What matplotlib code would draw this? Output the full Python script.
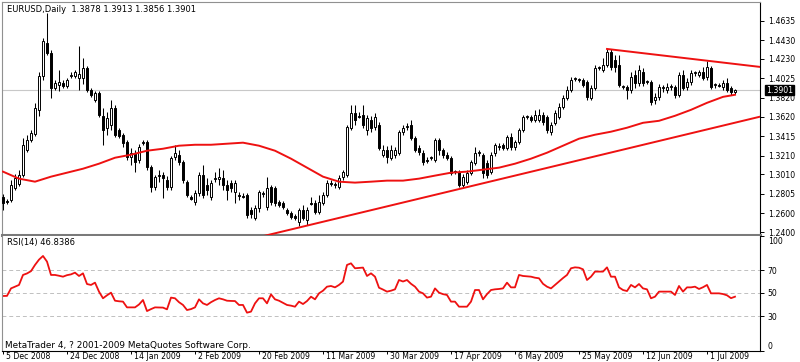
import matplotlib
matplotlib.use("Agg")
import matplotlib.pyplot as plt
import matplotlib.transforms as mtransforms

# EURUSD daily bars, 5 Dec 2008 .. early Jul 2009 (MT4 style incl. sunday bars)
opens = [
    1.2776, 1.2734, 1.2745, 1.2871, 1.2913, 1.3008, 1.3272, 1.3377, 1.3441, 1.3693,
    1.4052, 1.4399, 1.4294, 1.3926, 1.3957, 1.3978, 1.3947, 1.4052, 1.4052, 1.4031,
    1.4031, 1.4136, 1.3904, 1.3799, 1.3873, 1.3630, 1.3504, 1.3535, 1.3715, 1.3483,
    1.3430, 1.3356, 1.3198, 1.3240, 1.3166, 1.3346, 1.3356, 1.3093, 1.2881, 1.2998,
    1.3008, 1.2955, 1.2881, 1.3198, 1.3219, 1.3145, 1.2934, 1.2776, 1.2724, 1.2818,
    1.3008, 1.2902, 1.2776, 1.2966, 1.2966, 1.2977, 1.2902, 1.2924, 1.2829, 1.2797,
    1.2787, 1.2797, 1.2639, 1.2555, 1.2660, 1.2808, 1.2671, 1.2881, 1.2871, 1.2724,
    1.2713, 1.2639, 1.2608, 1.2576, 1.2513, 1.2639, 1.2534, 1.2713, 1.2713, 1.2618,
    1.2713, 1.2797, 1.2924, 1.2902, 1.2881, 1.2987, 1.3008, 1.3504, 1.3662, 1.3630,
    1.3640, 1.3483, 1.3588, 1.3514, 1.3535, 1.3219, 1.3272, 1.3187, 1.3219, 1.3240,
    1.3462, 1.3514, 1.3535, 1.3399, 1.3293, 1.3240, 1.3166, 1.3187, 1.3166, 1.3377,
    1.3272, 1.3219, 1.3187, 1.3040, 1.3040, 1.2902, 1.2934, 1.3029, 1.3135, 1.3240,
    1.3219, 1.3135, 1.3040, 1.3240, 1.3304, 1.3324, 1.3293, 1.3409, 1.3304, 1.3356,
    1.3483, 1.3619, 1.3619, 1.3588, 1.3588, 1.3640, 1.3619, 1.3462, 1.3556, 1.3619,
    1.3725, 1.3820, 1.3904, 1.4020, 1.4010, 1.4010, 1.3989, 1.3820, 1.3926, 1.4136,
    1.4115, 1.4168, 1.4305, 1.4220, 1.4168, 1.3936, 1.3936, 1.3904, 1.4062, 1.3978,
    1.4094, 1.3989, 1.3989, 1.3799, 1.3830, 1.3926, 1.3904, 1.3936, 1.3936, 1.3852,
    1.4062, 1.3936, 1.3989, 1.4083, 1.4062, 1.4094, 1.4041, 1.4136, 1.3957, 1.3957,
    1.3936, 1.3978, 1.3926, 1.3878,
]
highs = [
    1.2808, 1.2755, 1.2955, 1.3019, 1.3061, 1.3399, 1.3430, 1.3483, 1.3767, 1.4094,
    1.4453, 1.4716, 1.4326, 1.4010, 1.4115, 1.4010, 1.4031, 1.4094, 1.4115, 1.4368,
    1.4241, 1.4157, 1.3926, 1.3894, 1.3894, 1.3715, 1.3672, 1.3799, 1.3746, 1.3504,
    1.3451, 1.3377, 1.3293, 1.3272, 1.3335, 1.3377, 1.3377, 1.3113, 1.3008, 1.3061,
    1.3040, 1.2998, 1.3208, 1.3324, 1.3272, 1.3166, 1.2955, 1.2797, 1.2850, 1.3040,
    1.3113, 1.2977, 1.2955, 1.3040, 1.3082, 1.3061, 1.2955, 1.2955, 1.2955, 1.2829,
    1.2818, 1.2818, 1.2671, 1.2692, 1.2850, 1.2839, 1.2987, 1.2902, 1.2892, 1.2745,
    1.2734, 1.2660, 1.2629, 1.2597, 1.2660, 1.2692, 1.2671, 1.2776, 1.2745, 1.2797,
    1.2829, 1.2955, 1.2955, 1.2934, 1.3008, 1.3061, 1.3535, 1.3746, 1.3746, 1.3672,
    1.3746, 1.3640, 1.3630, 1.3662, 1.3567, 1.3324, 1.3314, 1.3324, 1.3304, 1.3483,
    1.3535, 1.3556, 1.3588, 1.3420, 1.3324, 1.3272, 1.3198, 1.3208, 1.3399, 1.3399,
    1.3293, 1.3251, 1.3208, 1.3061, 1.3061, 1.3019, 1.3061, 1.3166, 1.3304, 1.3272,
    1.3240, 1.3166, 1.3251, 1.3346, 1.3346, 1.3346, 1.3430, 1.3451, 1.3377, 1.3504,
    1.3640, 1.3640, 1.3640, 1.3693, 1.3704, 1.3672, 1.3640, 1.3567, 1.3693, 1.3767,
    1.3852, 1.3947, 1.4041, 1.4041, 1.4031, 1.4031, 1.4010, 1.3957, 1.4168, 1.4157,
    1.4241, 1.4336, 1.4336, 1.4273, 1.4273, 1.3957, 1.3957, 1.4094, 1.4115, 1.4168,
    1.4136, 1.4010, 1.4010, 1.3873, 1.3968, 1.3957, 1.3978, 1.3968, 1.3957, 1.4094,
    1.4115, 1.4031, 1.4115, 1.4104, 1.4115, 1.4147, 1.4210, 1.4157, 1.3978, 1.3978,
    1.4010, 1.4031, 1.3947, 1.3913,
]
lows = [
    1.2639, 1.2703, 1.2724, 1.2850, 1.2892, 1.2987, 1.3251, 1.3356, 1.3420, 1.3630,
    1.4010, 1.4273, 1.3820, 1.3904, 1.3894, 1.3926, 1.3926, 1.4031, 1.4031, 1.3904,
    1.3968, 1.3883, 1.3830, 1.3778, 1.3619, 1.3324, 1.3430, 1.3483, 1.3409, 1.3399,
    1.3304, 1.3166, 1.3113, 1.3040, 1.3135, 1.3324, 1.3061, 1.2829, 1.2850, 1.2934,
    1.2766, 1.2850, 1.2850, 1.3166, 1.3113, 1.2924, 1.2776, 1.2745, 1.2692, 1.2787,
    1.2766, 1.2797, 1.2745, 1.2934, 1.2902, 1.2850, 1.2745, 1.2829, 1.2713, 1.2745,
    1.2766, 1.2555, 1.2555, 1.2534, 1.2618, 1.2776, 1.2639, 1.2692, 1.2681, 1.2671,
    1.2650, 1.2587, 1.2545, 1.2534, 1.2471, 1.2534, 1.2481, 1.2692, 1.2597, 1.2597,
    1.2692, 1.2776, 1.2892, 1.2871, 1.2860, 1.2955, 1.2987, 1.3483, 1.3535, 1.3609,
    1.3504, 1.3430, 1.3462, 1.3483, 1.3272, 1.3198, 1.3135, 1.3166, 1.3187, 1.3219,
    1.3430, 1.3483, 1.3377, 1.3251, 1.3219, 1.3113, 1.3135, 1.3166, 1.3145, 1.3219,
    1.3187, 1.3166, 1.3008, 1.3019, 1.2881, 1.2871, 1.2913, 1.3008, 1.3113, 1.3208,
    1.2977, 1.2977, 1.3019, 1.3208, 1.3272, 1.3272, 1.3272, 1.3272, 1.3272, 1.3335,
    1.3462, 1.3598, 1.3567, 1.3567, 1.3567, 1.3535, 1.3451, 1.3430, 1.3535, 1.3598,
    1.3704, 1.3799, 1.3883, 1.3999, 1.3989, 1.3936, 1.3799, 1.3799, 1.3904, 1.4115,
    1.4094, 1.4147, 1.4115, 1.4094, 1.3936, 1.3915, 1.3809, 1.3873, 1.3926, 1.3947,
    1.3947, 1.3968, 1.3746, 1.3757, 1.3799, 1.3883, 1.3873, 1.3904, 1.3820, 1.3830,
    1.3904, 1.3904, 1.3957, 1.4052, 1.4041, 1.4010, 1.4010, 1.3915, 1.3926, 1.3936,
    1.3904, 1.3883, 1.3852, 1.3856,
]
closes = [
    1.2713, 1.2724, 1.2902, 1.2977, 1.3008, 1.3324, 1.3377, 1.3451, 1.3715, 1.4052,
    1.4420, 1.4294, 1.3926, 1.3978, 1.3989, 1.3947, 1.4010, 1.4062, 1.4094, 1.4073,
    1.4136, 1.3904, 1.3852, 1.3873, 1.3640, 1.3483, 1.3609, 1.3715, 1.3430, 1.3420,
    1.3346, 1.3198, 1.3240, 1.3145, 1.3304, 1.3356, 1.3093, 1.2881, 1.2987, 1.3008,
    1.2977, 1.2881, 1.3187, 1.3240, 1.3145, 1.2955, 1.2797, 1.2755, 1.2818, 1.3008,
    1.2797, 1.2850, 1.2924, 1.2977, 1.2987, 1.2902, 1.2850, 1.2871, 1.2924, 1.2787,
    1.2776, 1.2587, 1.2597, 1.2660, 1.2829, 1.2818, 1.2871, 1.2724, 1.2713, 1.2692,
    1.2671, 1.2608, 1.2566, 1.2555, 1.2639, 1.2555, 1.2639, 1.2703, 1.2618, 1.2724,
    1.2797, 1.2924, 1.2913, 1.2913, 1.2977, 1.3040, 1.3514, 1.3662, 1.3588, 1.3619,
    1.3535, 1.3609, 1.3504, 1.3619, 1.3293, 1.3272, 1.3198, 1.3272, 1.3272, 1.3462,
    1.3504, 1.3525, 1.3399, 1.3272, 1.3251, 1.3145, 1.3156, 1.3198, 1.3377, 1.3272,
    1.3219, 1.3187, 1.3029, 1.3050, 1.2902, 1.2987, 1.3029, 1.3145, 1.3240, 1.3251,
    1.3029, 1.3008, 1.3219, 1.3324, 1.3314, 1.3293, 1.3409, 1.3304, 1.3356, 1.3483,
    1.3619, 1.3630, 1.3588, 1.3640, 1.3640, 1.3567, 1.3483, 1.3535, 1.3662, 1.3725,
    1.3820, 1.3904, 1.4010, 1.4031, 1.4020, 1.3957, 1.3830, 1.3926, 1.4136, 1.4147,
    1.4168, 1.4305, 1.4147, 1.4147, 1.3957, 1.3947, 1.3904, 1.4041, 1.3978, 1.4115,
    1.3978, 1.3999, 1.3778, 1.3830, 1.3936, 1.3936, 1.3936, 1.3947, 1.3852, 1.4062,
    1.3926, 1.3989, 1.4083, 1.4094, 1.4094, 1.4031, 1.4147, 1.3936, 1.3968, 1.3947,
    1.3978, 1.3904, 1.3883, 1.3901,
]

# moving average, read every 4th bar (last point = last bar)
ma_bars = list(range(0, 184, 4)) + [183]
ma_vals = [
    1.3040, 1.2966, 1.2934, 1.2987, 1.3029, 1.3071, 1.3124, 1.3187, 1.3219, 1.3261,
    1.3282, 1.3314, 1.3324, 1.3324, 1.3335, 1.3346, 1.3314, 1.3261, 1.3177, 1.3082,
    1.2987, 1.2934, 1.2924, 1.2934, 1.2945, 1.2945, 1.2966, 1.2998, 1.3029, 1.3040,
    1.3061, 1.3082, 1.3124, 1.3177, 1.3240, 1.3314, 1.3388, 1.3430, 1.3462, 1.3504,
    1.3556, 1.3577, 1.3630, 1.3693, 1.3767, 1.3830, 1.3852,
]

# RSI(14), one value per bar
rsi_vals = [
    47.4, 47.5, 54.0, 55.5, 57.0, 65.7, 67.0, 69.0, 74.4, 79.0,
    82.2, 77.3, 65.7, 65.7, 65.0, 64.2, 65.5, 66.2, 67.7, 64.8,
    67.1, 57.8, 57.0, 59.0, 51.2, 45.4, 48.0, 50.3, 43.3, 42.8,
    42.5, 37.5, 37.5, 37.5, 40.0, 43.9, 34.3, 36.0, 37.5, 37.4,
    37.3, 35.8, 46.0, 45.4, 42.0, 39.6, 35.2, 36.0, 37.5, 44.5,
    41.0, 39.6, 42.0, 43.9, 45.4, 44.5, 43.3, 43.1, 43.0, 39.6,
    39.6, 32.9, 33.8, 41.0, 45.4, 45.4, 41.0, 48.8, 44.5, 43.3,
    41.5, 39.6, 39.0, 38.1, 42.5, 40.4, 43.0, 46.8, 44.5, 49.7,
    52.0, 55.5, 56.1, 54.9, 57.0, 59.9, 74.4, 75.8, 71.5, 71.8,
    72.1, 64.8, 67.1, 64.2, 54.6, 53.0, 51.2, 52.0, 53.2, 61.3,
    60.0, 61.3, 58.0, 55.5, 51.2, 49.7, 46.0, 46.8, 54.0, 50.3,
    49.0, 48.3, 42.5, 42.5, 38.1, 38.1, 38.1, 42.5, 52.6, 52.6,
    44.5, 49.0, 52.6, 53.2, 53.5, 54.0, 59.0, 54.9, 54.9, 65.7,
    64.8, 64.5, 64.2, 63.3, 62.8, 58.0, 55.5, 54.0, 57.0, 59.9,
    63.0, 65.7, 71.5, 72.3, 72.0, 70.6, 61.3, 64.2, 68.6, 68.6,
    68.6, 72.3, 64.2, 64.2, 54.9, 52.6, 51.7, 57.0, 54.9, 57.8,
    54.0, 53.2, 45.4, 46.8, 51.2, 51.2, 51.2, 51.2, 48.3, 56.1,
    51.2, 54.9, 54.9, 55.5, 53.5, 55.0, 57.0, 49.7, 49.7, 49.7,
    49.1, 48.0, 45.5, 46.8,
]

# hand drawn trend lines (two anchors each, bar index / price)
support_x = [70, 183]
support_y = [1.2409, 1.3557]
resist_x = [151, 176]
resist_y = [1.4336, 1.4212]

price_ticks = [1.4635, 1.4430, 1.4230, 1.4025, 1.3820, 1.3620,
               1.3415, 1.3210, 1.3010, 1.2805, 1.2600, 1.2400]
rsi_ticks = [0, 30, 50, 70, 100]
date_bars = [0, 16, 32, 48, 64, 80, 96, 112, 128, 144, 160, 176]
date_labels = ["5 Dec 2008", "24 Dec 2008", "14 Jan 2009", "2 Feb 2009",
               "20 Feb 2009", "11 Mar 2009", "30 Mar 2009", "17 Apr 2009",
               "6 May 2009", "25 May 2009", "12 Jun 2009", "1 Jul 2009"]

W, H = 800, 362
FS = 5.6
RED = "#ee1111"

fig = plt.figure(figsize=(8, 3.62), dpi=100)
fig.patch.set_facecolor("white")

def box(x0, y0, x1, y1):
    # pixel box -> figure fraction rect
    return [x0 / W, 1 - y1 / H, (x1 - x0) / W, (y1 - y0) / H]

ax = fig.add_axes(box(2, 2, 760, 234.5))
ax2 = fig.add_axes(box(2, 235.5, 760, 350.5))

n = len(closes)
xs = list(range(n))
xlim = (-0.25, 189.25)

# --- price panel
ax.vlines(xs, lows, highs, color="black", lw=0.75, zorder=2)
bottoms = [min(o, c) for o, c in zip(opens, closes)]
heights = [abs(c - o) for o, c in zip(opens, closes)]
fills = ["white" if c >= o else "black" for o, c in zip(opens, closes)]
ax.bar(xs, heights, bottom=bottoms, width=0.62, color=fills,
       edgecolor="black", linewidth=0.7, zorder=3)

ax.plot(ma_bars, ma_vals, color=RED, lw=1.4, zorder=4)

s = (support_y[1] - support_y[0]) / (support_x[1] - support_x[0])
ax.plot([60, xlim[1]], [support_y[0] + s * (60 - support_x[0]),
                        support_y[0] + s * (xlim[1] - support_x[0])],
        color=RED, lw=1.4, zorder=4)
r = (resist_y[1] - resist_y[0]) / (resist_x[1] - resist_x[0])
ax.plot([resist_x[0], xlim[1]], [resist_y[0],
                                 resist_y[0] + r * (xlim[1] - resist_x[0])],
        color=RED, lw=1.4, zorder=4)

ax.axhline(closes[-1], color="#c8c8c8", lw=0.8, zorder=1)

ax.set_xlim(*xlim)
ax.set_ylim(1.2376, 1.4832)
ax.set_xticks([])
ax.yaxis.tick_right()
ax.set_yticks(price_ticks)
ax.set_yticklabels([f"{p:.4f}" for p in price_ticks])
ax.tick_params(axis="y", direction="out", length=3, width=0.7, pad=2.5,
               labelsize=FS, colors="black")
for side in ("top", "left"):
    ax.spines[side].set_color("#909090")
    ax.spines[side].set_linewidth(0.8)
ax.spines["right"].set_color("black")
ax.spines["right"].set_linewidth(0.8)
ax.spines["bottom"].set_color("#7a7a7a")
ax.spines["bottom"].set_linewidth(2.2)

trans = mtransforms.blended_transform_factory(ax.transAxes, ax.transData)
ax.text(1 + 6 / 758, closes[-1], f"{closes[-1]:.4f}", transform=trans,
        ha="left", va="center", fontsize=FS, color="white", clip_on=False,
        bbox=dict(facecolor="black", edgecolor="black", pad=0.6), zorder=6)

ax.text(5 / 758, 1 - 3 / 232.5,
        f"EURUSD,Daily  {opens[-1]:.4f} {highs[-1]:.4f} {lows[-1]:.4f} {closes[-1]:.4f}",
        transform=ax.transAxes, ha="left", va="top", fontsize=6.0)

# --- RSI panel
ax2.plot(xs, rsi_vals, color=RED, lw=1.3)
for lvl in rsi_ticks[1:-1]:
    ax2.axhline(lvl, color="#c0c0c0", lw=0.7, ls=(0, (4, 3)), zorder=0)
ax2.set_xlim(*xlim)
ax2.set_ylim(0, 100)
ax2.yaxis.tick_right()
ax2.set_yticks(rsi_ticks)
ax2.set_yticklabels([""] + [str(t) for t in rsi_ticks[1:-1]] + [""])
ax2.tick_params(axis="y", direction="out", length=3, width=0.7, pad=2.5,
                labelsize=FS)
# MT4 keeps the 0 / 100 labels inside the pane
rtrans = mtransforms.blended_transform_factory(ax2.transAxes, ax2.transAxes)
ax2.text(1 + 8 / 758, 1 - 6.5 / 115, str(rsi_ticks[-1]), transform=rtrans,
         ha="left", va="center", fontsize=FS, clip_on=False)
ax2.text(1 + 8 / 758, 4 / 115, str(rsi_ticks[0]), transform=rtrans,
         ha="left", va="center", fontsize=FS, clip_on=False)

ax2.set_xticks(date_bars)
ax2.set_xticklabels([])
ax2.tick_params(axis="x", direction="out", length=2.5, width=0.7)
dtrans = mtransforms.blended_transform_factory(ax2.transData, ax2.transAxes)
for b, lab in zip(date_bars, date_labels):
    ax2.text(b + 0.8, -6 / 115, lab, transform=dtrans, ha="left",
             va="center", fontsize=FS, clip_on=False)

ax2.spines["top"].set_visible(False)
ax2.spines["left"].set_color("#909090")
ax2.spines["left"].set_linewidth(0.8)
for side in ("right", "bottom"):
    ax2.spines[side].set_color("black")
    ax2.spines[side].set_linewidth(0.8)

ax2.text(5 / 758, 1 - 3 / 115, "RSI(14) 46.8386",
         transform=ax2.transAxes, ha="left", va="top", fontsize=6.0)
ax2.text(3 / 758, 1 / 115, "MetaTrader 4, ? 2001-2009 MetaQuotes Software Corp.",
         transform=ax2.transAxes, ha="left", va="bottom", fontsize=6.4)

fig.savefig("out.png", dpi=100, facecolor="white")
